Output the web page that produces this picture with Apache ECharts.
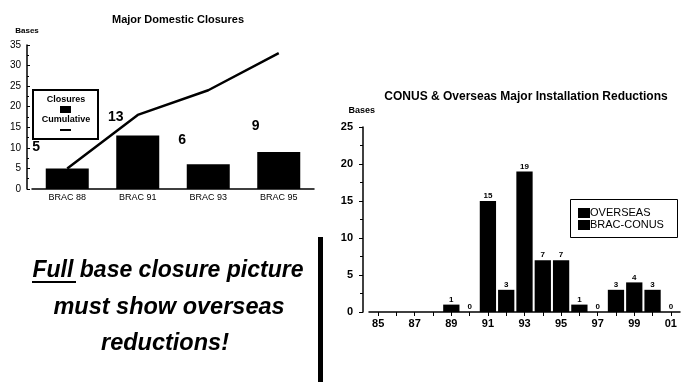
<!DOCTYPE html>
<html>
<head>
<meta charset="utf-8">
<script src="https://cdn.jsdelivr.net/npm/echarts@6/dist/echarts.min.js"></script>
<style>
  html, body { margin: 0; padding: 0; background: #fff; }
  #main { width: 694px; height: 382px; }
</style>
</head>
<body>
<div id="main"></div>
<script>
// left chart: domestic BRAC rounds
var domesticCats = ['BRAC 88', 'BRAC 91', 'BRAC 93', 'BRAC 95'];
var closures = [5, 13, 6, 9];
var cumulative = [5, 18, 24, 33];

// right chart: reductions per year
var yearCats = ['85', '86', '87', '88', '89', '90', '91', '92', '93',
                '94', '95', '96', '97', '98', '99', '00', '01'];
var reductions = [null, null, null, null, 1, 0, 15, 3, 19, 7, 7, 1, 0, 3, 4, 3, 0];

// where the big closure labels sit, relative to the bar top
var closureLabelOffsets = [[-31, -9], [-22, -6], [-26, -12], [-23, -14]];

var FONT = '"Liberation Sans", Arial, sans-serif';

var myChart = echarts.init(document.getElementById('main'));
myChart.setOption({
    backgroundColor: '#fff',
    animation: false,
    textStyle: { fontFamily: FONT, color: '#000' },
    title: [
        {
            text: 'Major Domestic Closures',
            left: 173, top: 9, textAlign: 'center',
            textStyle: { fontSize: 11, fontWeight: 'bold', color: '#000', fontFamily: FONT }
        },
        {
            text: 'CONUS & Overseas Major Installation Reductions',
            left: 521, top: 86, textAlign: 'center',
            textStyle: { fontSize: 12, fontWeight: 'bold', color: '#000', fontFamily: FONT }
        }
    ],
    grid: [
        { left: 32, top: 45, width: 282, height: 144 },
        { left: 369, top: 127, width: 311, height: 185 }
    ],
    xAxis: [
        {
            type: 'category', gridIndex: 0, data: domesticCats,
            axisLine: { lineStyle: { color: '#000', width: 1.5 } },
            axisTick: { show: false },
            axisLabel: { color: '#000', fontSize: 9, margin: 4 }
        },
        {
            type: 'category', gridIndex: 1, data: yearCats,
            axisLine: { lineStyle: { color: '#000', width: 1.5 } },
            axisTick: { show: true, interval: 0, alignWithLabel: true, length: 4, lineStyle: { color: '#000' } },
            axisLabel: { color: '#000', fontSize: 11, fontWeight: 'bold', interval: 1, margin: 6 }
        }
    ],
    yAxis: [
        {
            type: 'value', gridIndex: 0, min: 0, max: 35, interval: 5, offset: 5,
            name: 'Bases', nameLocation: 'end', nameGap: 10,
            nameTextStyle: { fontSize: 8, fontWeight: 'bold', color: '#000', align: 'center' },
            axisLine: { show: true, lineStyle: { color: '#000', width: 1.5 } },
            axisTick: { show: true, inside: true, length: 3, lineStyle: { color: '#000' } },
            minorTick: { show: true, splitNumber: 2, length: 2, lineStyle: { color: '#000' } },
            axisLabel: { color: '#000', fontSize: 10, margin: 6 },
            splitLine: { show: false }
        },
        {
            type: 'value', gridIndex: 1, min: 0, max: 25, interval: 5, offset: 6,
            name: 'Bases', nameLocation: 'end', nameGap: 12,
            nameTextStyle: { fontSize: 9, fontWeight: 'bold', color: '#000', align: 'right', padding: [0, -12, 0, 0] },
            axisLine: { show: true, lineStyle: { color: '#000', width: 1.5 } },
            axisTick: { show: true, length: 4, lineStyle: { color: '#000' } },
            minorTick: { show: true, splitNumber: 2, length: 3, lineStyle: { color: '#000' } },
            axisLabel: { color: '#000', fontSize: 11, fontWeight: 'bold', margin: 10 },
            splitLine: { show: false }
        }
    ],
    series: [
        {
            name: 'Closures',
            type: 'bar', xAxisIndex: 0, yAxisIndex: 0,
            barWidth: 43,
            itemStyle: { color: '#000' },
            data: closures.map(function (v, i) {
                return { value: v, label: { offset: closureLabelOffsets[i] } };
            }),
            label: {
                show: true, position: 'top', distance: 5,
                fontSize: 14, fontWeight: 'bold', color: '#000', fontFamily: FONT
            }
        },
        {
            name: 'Cumulative',
            type: 'line', xAxisIndex: 0, yAxisIndex: 0,
            data: cumulative,
            symbol: 'none',
            lineStyle: { color: '#000', width: 2.5 },
            z: 3
        },
        {
            name: 'Reductions',
            type: 'bar', xAxisIndex: 1, yAxisIndex: 1,
            barCategoryGap: '11%',
            itemStyle: { color: '#000' },
            data: reductions,
            label: {
                show: true, position: 'top', distance: 1,
                fontSize: 8, fontWeight: 'bold', color: '#000', fontFamily: FONT
            }
        }
    ],
    graphic: [
        // left legend box
        { type: 'rect', shape: { x: 33, y: 90, width: 65, height: 49 },
          style: { fill: '#fff', stroke: '#000', lineWidth: 2 }, z: 10 },
        { type: 'text', x: 66, y: 100, z: 11,
          style: { text: 'Closures', fontSize: 9, fontWeight: 'bold', fontFamily: FONT,
                   fill: '#000', align: 'center', verticalAlign: 'middle' } },
        { type: 'rect', shape: { x: 60, y: 106, width: 11, height: 7 },
          style: { fill: '#000' }, z: 11 },
        { type: 'text', x: 66, y: 120, z: 11,
          style: { text: 'Cumulative', fontSize: 9, fontWeight: 'bold', fontFamily: FONT,
                   fill: '#000', align: 'center', verticalAlign: 'middle' } },
        { type: 'line', shape: { x1: 60, y1: 130, x2: 71, y2: 130 },
          style: { stroke: '#000', lineWidth: 2 }, z: 11 },

        // right legend box
        { type: 'rect', shape: { x: 570.5, y: 199.5, width: 107, height: 38 },
          style: { fill: '#fff', stroke: '#000', lineWidth: 1 }, z: 10 },
        { type: 'rect', shape: { x: 578, y: 208, width: 12, height: 10 },
          style: { fill: '#000' }, z: 11 },
        { type: 'rect', shape: { x: 578, y: 220, width: 12, height: 10 },
          style: { fill: '#000' }, z: 11 },
        { type: 'text', x: 590, y: 213, z: 11,
          style: { text: 'OVERSEAS', fontSize: 11, fontFamily: FONT, fill: '#000',
                   align: 'left', verticalAlign: 'middle' } },
        { type: 'text', x: 590, y: 225, z: 11,
          style: { text: 'BRAC-CONUS', fontSize: 11, fontFamily: FONT, fill: '#000',
                   align: 'left', verticalAlign: 'middle' } },

        // message text
        { type: 'text', x: 168, y: 271,
          style: { text: 'Full base closure picture', fontSize: 23, fontWeight: 'bold',
                   fontStyle: 'italic', fontFamily: FONT, fill: '#000',
                   align: 'center', verticalAlign: 'middle' } },
        { type: 'line', shape: { x1: 32, y1: 282, x2: 76, y2: 282 },
          style: { stroke: '#000', lineWidth: 2 } },
        { type: 'text', x: 169, y: 308,
          style: { text: 'must show overseas', fontSize: 23.5, fontWeight: 'bold',
                   fontStyle: 'italic', fontFamily: FONT, fill: '#000',
                   align: 'center', verticalAlign: 'middle' } },
        { type: 'text', x: 165, y: 344,
          style: { text: 'reductions!', fontSize: 23.5, fontWeight: 'bold',
                   fontStyle: 'italic', fontFamily: FONT, fill: '#000',
                   align: 'center', verticalAlign: 'middle' } },

        // thick vertical rule beside the message
        { type: 'rect', shape: { x: 318, y: 237, width: 5, height: 145 },
          style: { fill: '#000' } }
    ]
});
</script>
</body>
</html>
